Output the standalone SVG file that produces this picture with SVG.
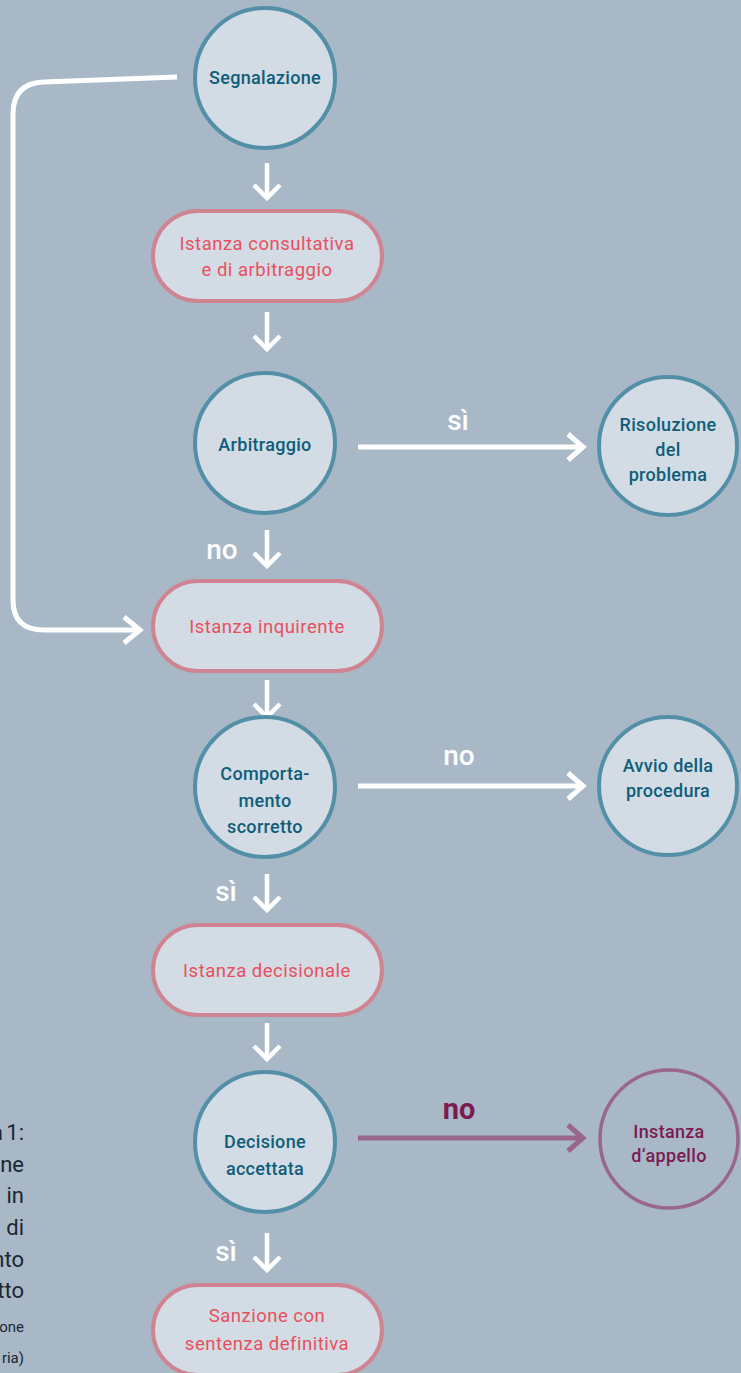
<svg xmlns="http://www.w3.org/2000/svg" width="741" height="1373" viewBox="0 0 741 1373">
<style>
.bg{fill:#a8b8c7}
.c{fill:#d3dbe4;stroke:#5390a8;stroke-width:4}
.cp{fill:none;stroke:#98678a;stroke-width:3.5}
.p{fill:#d3dbe4;stroke:#cf8591;stroke-width:4}
.ct{font-family:Roboto,"Liberation Sans",sans-serif;font-size:18px;font-weight:500;fill:#0d5e7a;text-anchor:middle;letter-spacing:0.3px}
.ctp{font-family:Roboto,"Liberation Sans",sans-serif;font-size:18px;font-weight:500;fill:#7d1a52;text-anchor:middle;letter-spacing:0.3px}
.pt{font-family:Roboto,"Liberation Sans",sans-serif;font-size:18.5px;font-weight:400;fill:#e8505e;text-anchor:middle;letter-spacing:0.5px}
.lb{font-family:Roboto,"Liberation Sans",sans-serif;font-size:28px;font-weight:500;fill:#ffffff;text-anchor:middle}
.lbp{font-family:Roboto,"Liberation Sans",sans-serif;font-size:29px;font-weight:700;fill:#7d1a52;text-anchor:middle}
.cap{font-family:Roboto,"Liberation Sans",sans-serif;font-size:22px;font-weight:400;fill:#1b2633;text-anchor:end}
.caps{font-family:Roboto,"Liberation Sans",sans-serif;font-size:15px;font-weight:400;fill:#1b2633;text-anchor:end}
.w{fill:none;stroke:#ffffff;stroke-width:4.5;stroke-linecap:butt;stroke-linejoin:miter}
.wh{fill:none;stroke:#ffffff;stroke-width:5}
.pu{fill:none;stroke:#98678a;stroke-width:5}
</style>
<rect class="bg" x="0" y="0" width="741" height="1373"/>

<g id="connectors">
  <path class="wh" d="M177,77 L44,82 Q13,83 13,114 L13,600 Q13,630 44,630 L138,630"/>
  <path class="wh" d="M124,617 L140,630 L124,643"/>
  <path class="w" d="M267,163 L267,198 M254,185 L267,198 L280,185"/>
  <path class="w" d="M267,312 L267,349 M254,336 L267,349 L280,336"/>
  <path class="w" d="M267,530 L267,566 M254,553 L267,566 L280,553"/>
  <path class="w" d="M267,680 L267,717 M254,704 L267,717 L280,704"/>
  <path class="w" d="M267,874 L267,910 M254,897 L267,910 L280,897"/>
  <path class="w" d="M267,1023 L267,1059 M254,1046 L267,1059 L280,1046"/>
  <path class="w" d="M267,1233 L267,1270 M254,1257 L267,1270 L280,1257"/>
  <path class="wh" d="M358,447 L583,447 M568,434 L583,447 L568,460"/>
  <path class="wh" d="M358,786 L583,786 M568,773 L583,786 L568,799"/>
  <path class="pu" d="M358,1138 L583,1138 M568,1125 L583,1138 L568,1151"/>
  <text class="lb" x="458" y="430">sì</text>
  <text class="lb" x="222" y="559">no</text>
  <text class="lb" x="459" y="765">no</text>
  <text class="lb" x="226" y="901">sì</text>
  <text class="lbp" x="459" y="1119">no</text>
  <text class="lb" x="226" y="1261">sì</text>
</g>

<g id="segnalazione">
  <circle class="c" cx="265" cy="78" r="70"/>
  <text class="ct" x="265" y="84">Segnalazione</text>
</g>
<g id="istanza-consultativa">
  <rect class="p" x="153" y="211" width="229" height="90" rx="45"/>
  <text class="pt" x="267" y="250">Istanza consultativa</text>
  <text class="pt" x="267" y="276">e di arbitraggio</text>
</g>
<g id="arbitraggio">
  <circle class="c" cx="265" cy="443" r="70"/>
  <text class="ct" x="265" y="451">Arbitraggio</text>
</g>
<g id="risoluzione">
  <circle class="c" cx="668" cy="446" r="69"/>
  <text class="ct" x="668" y="431">Risoluzione</text>
  <text class="ct" x="668" y="456">del</text>
  <text class="ct" x="668" y="481">problema</text>
</g>
<g id="istanza-inquirente">
  <rect class="p" x="153" y="581" width="229" height="90" rx="45"/>
  <text class="pt" x="267" y="633">Istanza inquirente</text>
</g>
<g id="comportamento">
  <circle class="c" cx="265" cy="787" r="70"/>
  <text class="ct" x="265" y="780">Comporta-</text>
  <text class="ct" x="265" y="807">mento</text>
  <text class="ct" x="265" y="833">scorretto</text>
</g>
<g id="avvio">
  <circle class="c" cx="668" cy="786" r="69"/>
  <text class="ct" x="668" y="772">Avvio della</text>
  <text class="ct" x="668" y="797">procedura</text>
</g>
<g id="istanza-decisionale">
  <rect class="p" x="153" y="925" width="229" height="90" rx="45"/>
  <text class="pt" x="267" y="977">Istanza decisionale</text>
</g>
<g id="decisione">
  <circle class="c" cx="265" cy="1142" r="70"/>
  <text class="ct" x="265" y="1148">Decisione</text>
  <text class="ct" x="265" y="1175">accettata</text>
</g>
<g id="appello">
  <circle class="cp" cx="669" cy="1139" r="69"/>
  <text class="ctp" x="669" y="1138">Instanza</text>
  <text class="ctp" x="669" y="1162">d‘appello</text>
</g>
<g id="sanzione">
  <rect class="p" x="153" y="1285" width="229" height="90" rx="45"/>
  <text class="pt" x="267" y="1322">Sanzione con</text>
  <text class="pt" x="267" y="1350">sentenza definitiva</text>
</g>

<g id="caption">
  <text class="cap" x="24" y="1140" font-weight="700" word-spacing="-2">a 1:</text>
  <text class="cap" x="24" y="1172">ne</text>
  <text class="cap" x="24" y="1203">in</text>
  <text class="cap" x="24" y="1235">di</text>
  <text class="cap" x="24" y="1267">nto</text>
  <text class="cap" x="24" y="1298">tto</text>
  <text class="caps" x="24" y="1332">one</text>
  <text class="caps" x="24" y="1363">ria)</text>
</g>
</svg>
